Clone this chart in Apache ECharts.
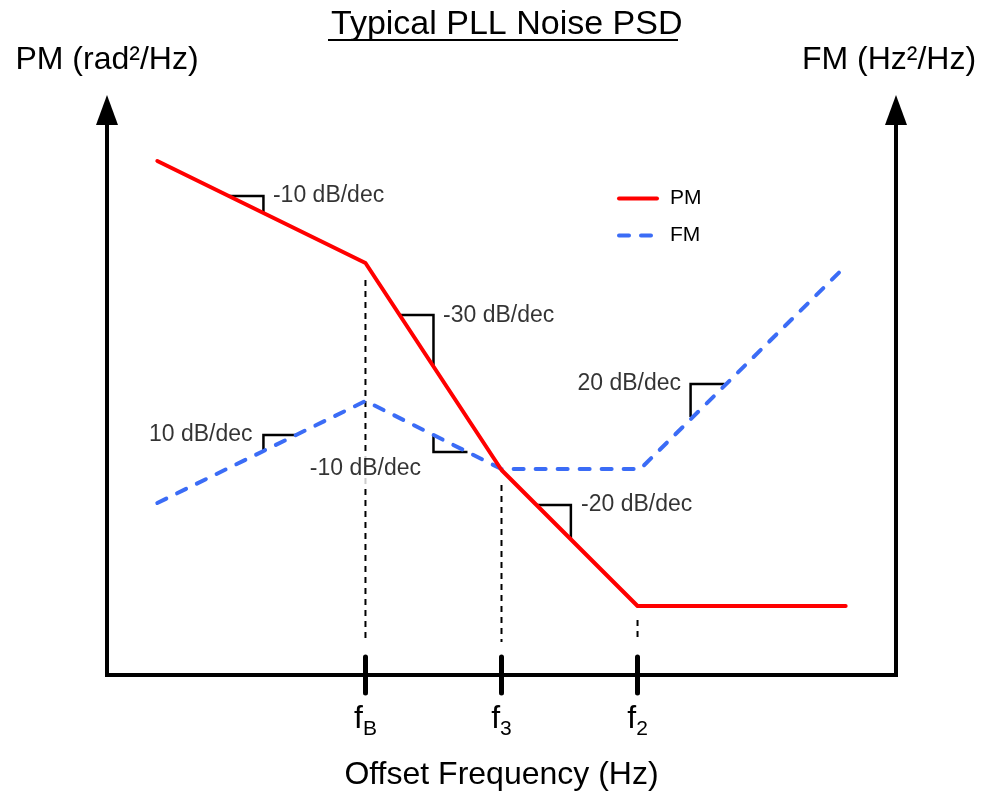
<!DOCTYPE html>
<html>
<head>
<meta charset="utf-8">
<script src="https://cdn.jsdelivr.net/npm/echarts@6/dist/echarts.min.js"></script>
<style>
html,body{margin:0;padding:0;background:#fff;}
#chart{width:988px;height:795px;}
</style>
</head>
<body>
<div id="chart"></div>
<script>
// ---- data (x in decade-like units: fB=3, f3=4, f2=5; y in relative dB-like units) ----
const pmX = [1.47, 3, 4, 5, 6.53];
const pmY = [514, 412, 205, 69, 69];
const fmX = [1.47, 3, 4, 5.02, 6.53];
const fmY = [172, 274, 206, 206, 409];

const tickValues = [3, 4, 5];
const tickMain = ['f', 'f', 'f'];
const tickSub = ['B', '3', '2'];

const guideX = [3, 4, 5];
const guideTop = [395, 190, 55];
const guideBottom = [33, 33, 33];

// slope annotation triangles (three corner points each) and their labels
const slopeText = ['-10 dB/dec', '-30 dB/dec', '-10 dB/dec', '10 dB/dec', '20 dB/dec', '-20 dB/dec'];
const slopeTri = [
  [[1.99, 479], [2.25, 479], [2.25, 462]],
  [[3.25, 360], [3.5, 360], [3.5, 308]],
  [[3.5, 240], [3.5, 223], [3.75, 223]],
  [[2.25, 224], [2.25, 240], [2.49, 240]],
  [[5.39, 258], [5.39, 291], [5.64, 291]],
  [[4.26, 170], [4.51, 170], [4.51, 136]]
];
const slopeLabelX = [2.32, 3.57, 3.0, 2.17, 5.32, 4.585];
const slopeLabelY = [479, 359, 206, 240, 291, 170];
const slopeLabelAlign = ['left', 'left', 'center', 'right', 'right', 'left'];

const X_MIN = 1.1, X_MAX = 6.9, Y_MIN = 0, Y_MAX = 565;
const FONT = '"Liberation Sans", Arial, Helvetica, sans-serif';

const zip = (a, b) => a.map((v, i) => [v, b[i]]);

const series = [];
series.push({
  name: 'PM', type: 'line', data: zip(pmX, pmY), symbol: 'none', z: 5,
  lineStyle: { color: '#ff0000', width: 4, cap: 'round', join: 'round' },
  itemStyle: { color: '#ff0000' }
});
series.push({
  name: 'FM', type: 'line', yAxisIndex: 1, data: zip(fmX, fmY), symbol: 'none', z: 4,
  lineStyle: { color: '#3b6cf6', width: 4, type: [10, 12], cap: 'round', join: 'round' },
  itemStyle: { color: '#3b6cf6' }
});
guideX.forEach((x, i) => {
  series.push({
    type: 'line', data: [[x, guideTop[i]], [x, guideBottom[i]]], symbol: 'none', z: 2,
    lineStyle: { color: '#000', width: 2, type: [6, 5] }, silent: true
  });
});
slopeTri.forEach((pts) => {
  series.push({
    type: 'line', data: pts, symbol: 'none', z: 3,
    lineStyle: { color: '#000', width: 2.5, join: 'miter' }, silent: true
  });
});
series.push({
  type: 'scatter', symbolSize: 0, z: 6, silent: true,
  data: slopeText.map((t, i) => ({
    value: [slopeLabelX[i], slopeLabelY[i]],
    label: {
      show: true, formatter: t, position: 'inside', align: slopeLabelAlign[i], verticalAlign: 'middle',
      color: '#000', fontSize: 23, fontFamily: FONT,
      backgroundColor: i === 2 ? '#fff' : 'transparent', padding: i === 2 ? [4, 2] : 0
    }
  }))
});

const chart = echarts.init(document.getElementById('chart'), null, { renderer: 'canvas' });
chart.setOption({
  animation: false,
  backgroundColor: '#fff',
  title: {
    text: 'Typical PLL Noise PSD', left: 326, top: 3,
    textStyle: { fontSize: 34, fontWeight: 'normal', color: '#000', fontFamily: FONT }
  },
  graphic: [{
    type: 'line', shape: { x1: 328, y1: 40, x2: 678, y2: 40 },
    style: { stroke: '#000', lineWidth: 2 }
  }],
  legend: {
    data: ['PM', 'FM'], orient: 'vertical', left: 612, top: 183,
    itemWidth: 38, itemHeight: 20, itemGap: 16,
    itemStyle: { opacity: 0 },
    lineStyle: { width: 4, cap: 'round' },
    textStyle: { fontSize: 21, color: '#000', fontFamily: FONT, padding: [0, 0, 0, 8] }
  },
  grid: { left: 107, right: 92, top: 110, bottom: 120, containLabel: false, outerBoundsMode: 'none' },
  xAxis: [{
    type: 'value', min: X_MIN, max: X_MAX,
    name: 'Offset Frequency (Hz)', nameLocation: 'middle', nameGap: 84,
    nameTextStyle: { fontSize: 32, color: '#000', fontFamily: FONT },
    axisLine: { show: true, lineStyle: { color: '#000', width: 4, cap: 'square' } },
    splitLine: { show: false },
    axisTick: { show: true, customValues: tickValues, length: 18, lineStyle: { color: '#000', width: 5, cap: 'round' } },
    axisLabel: {
      show: true, customValues: tickValues, margin: 28,
      formatter: (v) => {
        const i = tickValues.indexOf(v);
        return i < 0 ? '' : '{m|' + tickMain[i] + '}{s|' + tickSub[i] + '}';
      },
      rich: {
        m: { fontSize: 32, color: '#000', fontFamily: FONT, verticalAlign: 'top', lineHeight: 34 },
        s: { fontSize: 21, color: '#000', fontFamily: FONT, verticalAlign: 'top', padding: [16, 0, 0, 0], lineHeight: 22 }
      }
    }
  }, {
    type: 'value', min: X_MIN, max: X_MAX, position: 'bottom',
    axisLine: { show: false }, splitLine: { show: false }, axisLabel: { show: false },
    axisTick: { show: true, inside: true, customValues: tickValues, length: 18, lineStyle: { color: '#000', width: 5, cap: 'round' } }
  }],
  yAxis: [{
    type: 'value', min: Y_MIN, max: Y_MAX, position: 'left',
    name: 'PM (rad²/Hz)', nameLocation: 'end', nameGap: 34,
    nameTextStyle: { fontSize: 32, color: '#000', fontFamily: FONT },
    axisLine: { show: true, symbol: ['none', 'triangle'], symbolSize: [22, 30], lineStyle: { color: '#000', width: 4, cap: 'square' } },
    axisTick: { show: false }, axisLabel: { show: false }, splitLine: { show: false }
  }, {
    type: 'value', min: Y_MIN, max: Y_MAX, position: 'right',
    name: 'FM (Hz²/Hz)', nameLocation: 'end', nameGap: 34,
    nameTextStyle: { fontSize: 32, color: '#000', fontFamily: FONT, padding: [0, 14, 0, 0] },
    axisLine: { show: true, symbol: ['none', 'triangle'], symbolSize: [22, 30], lineStyle: { color: '#000', width: 4, cap: 'square' } },
    axisTick: { show: false }, axisLabel: { show: false }, splitLine: { show: false }
  }],
  series: series
});
</script>
</body>
</html>
